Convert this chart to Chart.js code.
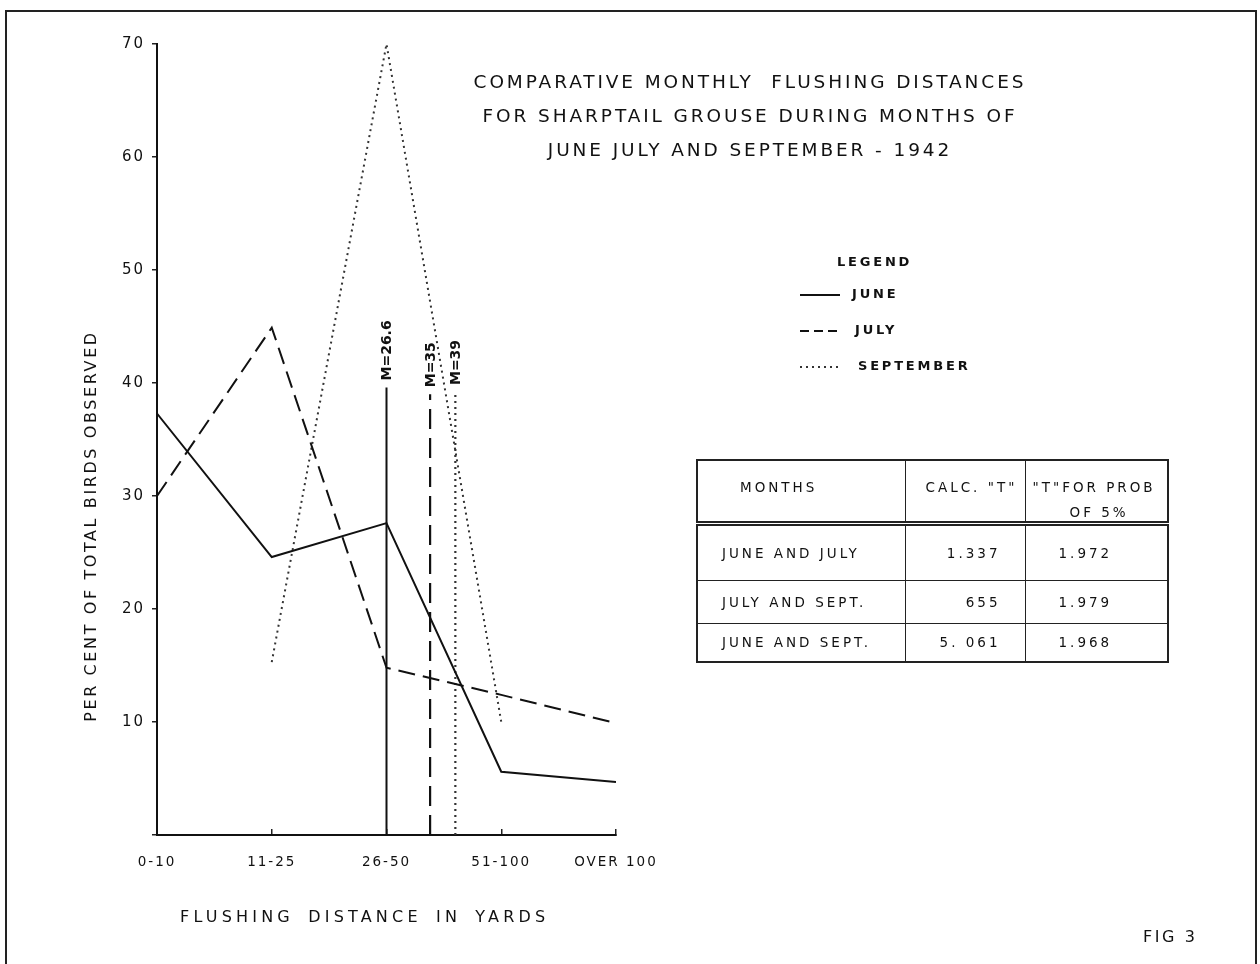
<!DOCTYPE html>
<html>
<head>
<meta charset="utf-8">
<title>Comparative monthly flushing distances - sharptail grouse 1942</title>
<script src="https://cdn.jsdelivr.net/npm/chart.js@4.4.1/dist/chart.umd.min.js"></script>
<style>
body { margin: 0; background: #fff; font-family: "DejaVu Sans", sans-serif; color: #111; }
#wrap { position: relative; width: 1260px; height: 964px; overflow: hidden; background: #fff; }
#chart { position: absolute; left: 0; top: 0; }
.frame { position: absolute; left: 5px; top: 10px; width: 1248px; height: 980px; border: 2px solid #222; }
.title { position: absolute; left: 450px; top: 65px; width: 600px; text-align: center;
  font-size: 18.5px; letter-spacing: 2.9px; line-height: 34px; white-space: pre; }
.ytitle { position: absolute; left: 90px; top: 526px; transform: translate(-50%, -50%) rotate(-90deg);
  font-size: 16px; letter-spacing: 2.6px; white-space: nowrap; }
.xtitle { position: absolute; left: 180px; top: 907px; font-size: 16px; letter-spacing: 4.2px; word-spacing: 5px; white-space: nowrap; }
.fig { position: absolute; left: 1143px; top: 927px; font-size: 16px; letter-spacing: 2.6px; }
.legend { position: absolute; left: 800px; top: 254px; font-size: 13px; font-weight: bold; letter-spacing: 2.8px; }
.legend .head { position: absolute; left: 37px; top: 0; }
.legend .row { position: absolute; left: 0; height: 20px; white-space: nowrap; }
.legend .row svg { position: absolute; left: 0; top: 0; }
.legend .row span { position: absolute; top: 1px; }
table { position: absolute; left: 696px; top: 459px; border-collapse: collapse; border: 2px solid #222;
  table-layout: fixed; font-size: 13.5px; letter-spacing: 3px; }
td { border: 1.5px solid #222; padding: 0; vertical-align: middle; white-space: nowrap; overflow: visible; }
tr.head td { height: 60px; border-bottom: 5px double #222; vertical-align: top; }
.hcell { position: relative; height: 58px; }
.hcell span { position: absolute; }
</style>
</head>
<body>
<div id="wrap">
  <canvas id="chart" width="1260" height="964"></canvas>
  <div class="frame"></div>
  <div class="title">COMPARATIVE MONTHLY  FLUSHING DISTANCES
FOR SHARPTAIL GROUSE DURING MONTHS OF
JUNE JULY AND SEPTEMBER - 1942</div>
  <div class="ytitle">PER CENT OF TOTAL BIRDS OBSERVED</div>
  <div class="xtitle">FLUSHING DISTANCE IN YARDS</div>
  <div class="legend" id="legend"><div class="head">LEGEND</div></div>
  <table id="ttable"></table>
  <div class="fig">FIG 3</div>
</div>
<script>
// values
const categories = ['0-10', '11-25', '26-50', '51-100', 'OVER 100'];
const june = [37.3, 24.6, 27.6, 5.6, 4.7];
const july = [30.0, 44.9, 14.8, 12.4, 9.9];
const september = [null, 15.3, 70.0, 10.0, null];

const medianLabels = ['M=26.6', 'M=35', 'M=39'];
const medianPos = [2.0, 2.38, 2.6];
const medianTop = [39.6, 39.0, 39.2];

const legendNames = ['JUNE', 'JULY', 'SEPTEMBER'];

const tableMonths = ['JUNE AND JULY', 'JULY AND SEPT.', 'JUNE AND SEPT.'];
const calcT = ['1.337', '655', '5. 061'];
const probT = ['1.972', '1.979', '1.968'];

const lineStyles = [
  { color: '#111', width: 2, dash: [] },
  { color: '#111', width: 2, dash: [17, 8] },
  { color: '#333', width: 2, dash: [2, 4] }
];

function toPoints(vals) {
  return vals.map((v, i) => ({ x: i, y: v }));
}

const datasets = [june, july, september].map((vals, i) => ({
  label: legendNames[i],
  data: toPoints(vals),
  borderColor: lineStyles[i].color,
  borderWidth: lineStyles[i].width,
  borderDash: lineStyles[i].dash,
  pointRadius: 0,
  tension: 0,
  spanGaps: false
}));

medianLabels.forEach((lab, i) => {
  datasets.push({
    label: lab,
    data: [{ x: medianPos[i], y: 0 }, { x: medianPos[i], y: medianTop[i] }],
    borderColor: lineStyles[i].color,
    borderWidth: i === 0 ? 2 : 2.2,
    borderDash: i === 1 ? [20, 9] : lineStyles[i].dash,
    pointRadius: 0
  });
});

const spacing = {
  id: 'spacing',
  beforeUpdate(chart) { chart.ctx.letterSpacing = '2px'; },
  beforeDraw(chart) { chart.ctx.letterSpacing = '2px'; }
};

const medianText = {
  id: 'medianText',
  afterDatasetsDraw(chart) {
    const { ctx, scales: { x, y } } = chart;
    ctx.save();
    ctx.letterSpacing = '0px';
    ctx.font = 'bold 14px "DejaVu Sans"';
    ctx.fillStyle = '#111';
    ctx.textAlign = 'left';
    ctx.textBaseline = 'middle';
    medianLabels.forEach((lab, i) => {
      ctx.save();
      ctx.translate(x.getPixelForValue(medianPos[i]) + 1, y.getPixelForValue(medianTop[i]) - 7);
      ctx.rotate(-Math.PI / 2);
      ctx.fillText(lab, 0, 0);
      ctx.restore();
    });
    ctx.restore();
  }
};

new Chart(document.getElementById('chart'), {
  type: 'line',
  data: { datasets: datasets },
  plugins: [spacing, medianText],
  options: {
    responsive: false,
    animation: false,
    layout: { padding: { top: 44, right: 644, left: 0, bottom: 0 } },
    plugins: { legend: { display: false }, tooltip: { enabled: false } },
    scales: {
      x: {
        type: 'linear',
        min: 0,
        max: 4,
        afterFit: (scale) => { scale.height = 129; },
        ticks: {
          stepSize: 1,
          autoSkip: false,
          maxRotation: 0,
          padding: 25,
          color: '#111',
          font: { family: 'DejaVu Sans', size: 13.5 },
          callback: (v) => categories[v]
        },
        grid: { drawOnChartArea: false, tickLength: -6, color: '#222', lineWidth: 1.5 },
        border: { color: '#111', width: 2 }
      },
      y: {
        min: 0,
        max: 70,
        afterFit: (scale) => { scale.width = 157; },
        ticks: {
          stepSize: 10,
          padding: 7,
          color: '#111',
          font: { family: 'DejaVu Sans', size: 15 },
          callback: (v) => (v === 0 ? '' : v)
        },
        grid: { drawOnChartArea: false, tickLength: 5, color: '#222', lineWidth: 1.5 },
        border: { color: '#111', width: 2 }
      }
    }
  }
});

// legend built from the same styles
const legend = document.getElementById('legend');
legendNames.forEach((name, i) => {
  const row = document.createElement('div');
  row.className = 'row';
  row.style.top = (31 + i * 36) + 'px';
  const st = lineStyles[i];
  const dash = i === 1 ? '9 5' : st.dash.join(' ');
  row.innerHTML = '<svg width="44" height="20"><line x1="0" y1="10" x2="40" y2="10" stroke="' + st.color +
    '" stroke-width="2" stroke-dasharray="' + dash + '"/></svg><span style="left:' + (52 + i * 3) + 'px">' + name + '</span>';
  legend.appendChild(row);
});

// t-test table
const tbl = document.getElementById('ttable');
let html = '<colgroup><col style="width:208px"><col style="width:120px"><col style="width:143px"></colgroup>' +
  '<tr class="head">' +
  '<td><div class="hcell"><span style="left:42px;top:18px">MONTHS</span></div></td>' +
  '<td><div class="hcell"><span style="left:20px;top:18px">CALC. "T"</span></div></td>' +
  '<td><div class="hcell"><span style="left:7px;top:18px">"T"FOR PROB</span>' +
  '<span style="left:44px;top:43px">OF 5%</span></div></td></tr>';
const rowH = [57, 43, 38];
tableMonths.forEach((m, i) => {
  html += '<tr style="height:' + rowH[i] + 'px">' +
    '<td><div style="padding-left:24px">' + m + '</div></td>' +
    '<td><div style="text-align:right;padding-right:24px">' + calcT[i] + '</div></td>' +
    '<td><div style="padding-left:33px">' + probT[i] + '</div></td></tr>';
});
tbl.innerHTML = html;
</script>
</body>
</html>
